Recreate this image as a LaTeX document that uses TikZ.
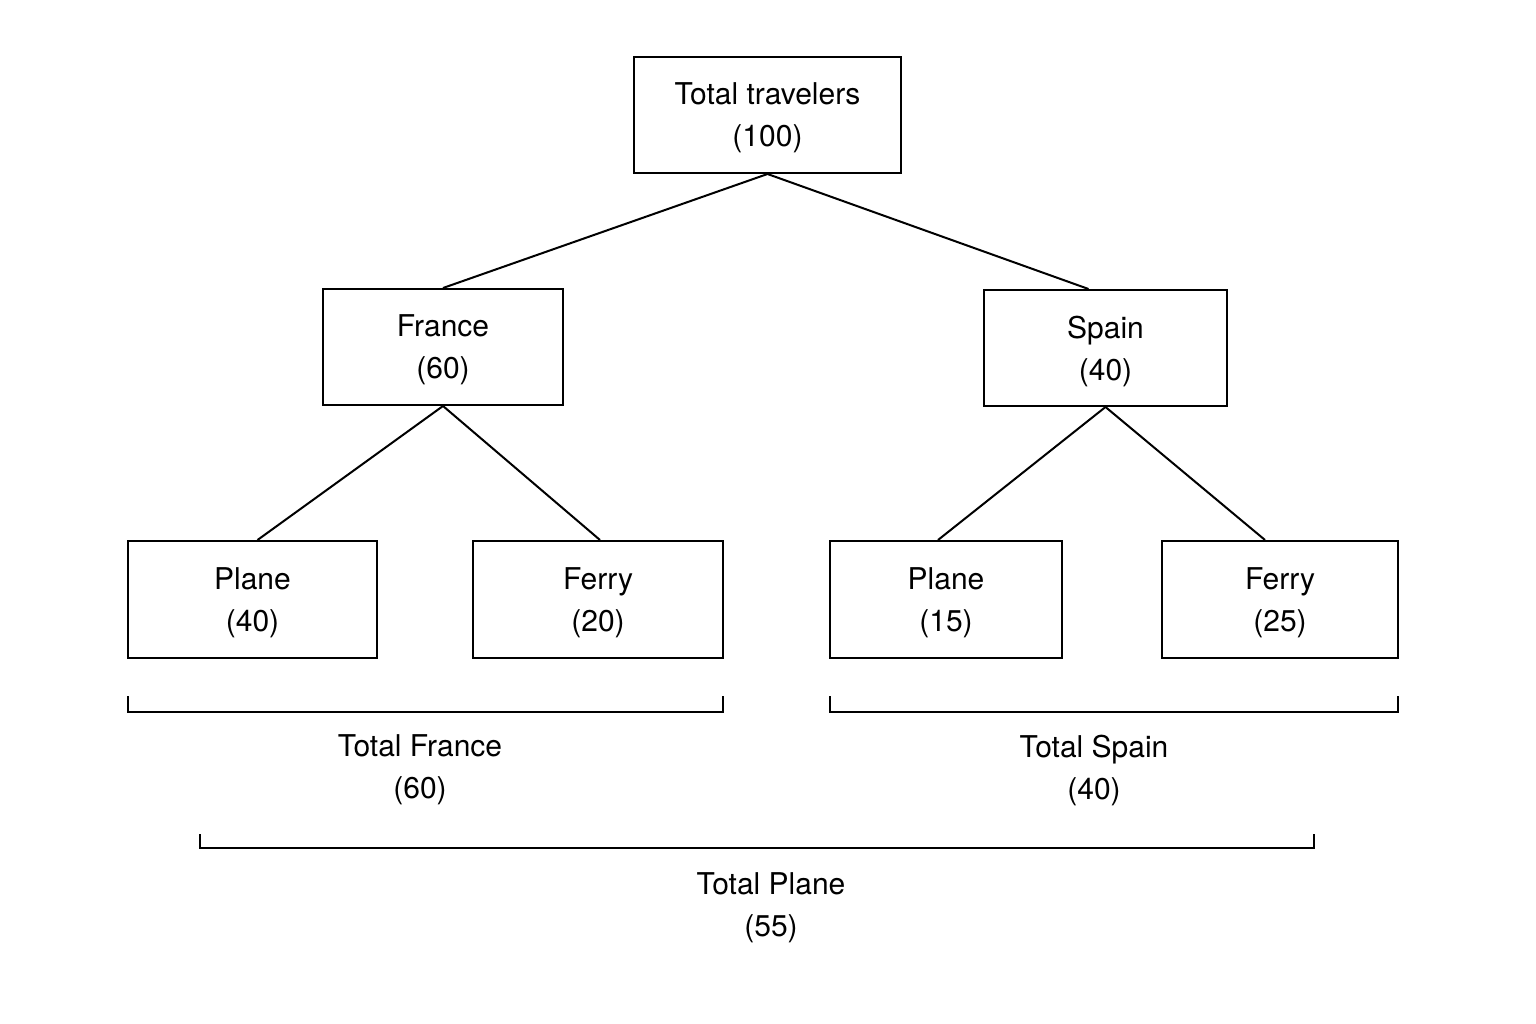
\documentclass[tikz,border=0pt]{standalone}
\usepackage{fontspec}
\setmainfont{TeX Gyre Heros}
\begin{document}
\begin{tikzpicture}[x=1pt,y=-1pt,
  box/.style={draw,line width=2pt,inner sep=0pt,align=center,font=\fontsize{30}{42}\selectfont},
  lbl/.style={align=center,font=\fontsize{30}{42}\selectfont},
  ln/.style={line width=2pt}]
\useasboundingbox (0,0) rectangle (1536,1024);
\node[box,minimum width=267pt,minimum height=116pt,text depth=-6pt] (top) at (767.5,115) {Total travelers\\(100)};
\node[box,minimum width=240pt,minimum height=116pt,text depth=-6pt] (fr) at (443,347) {France\\(60)};
\node[box,minimum width=243pt,minimum height=116pt,text depth=-6pt] (sp) at (1105.5,348) {Spain\\(40)};
\node[box,minimum width=249pt,minimum height=117pt,text depth=-6pt] (p1) at (252.5,599.5) {Plane\\(40)};
\node[box,minimum width=250pt,minimum height=117pt,text depth=-6pt] (f1) at (598,599.5) {Ferry\\(20)};
\node[box,minimum width=232pt,minimum height=117pt,text depth=-6pt] (p2) at (946,599.5) {Plane\\(15)};
\node[box,minimum width=236pt,minimum height=117pt,text depth=-6pt] (f2) at (1280,599.5) {Ferry\\(25)};
\draw[ln] (top.south) -- (fr.north) (top.south) -- ([xshift=-17pt]sp.north);
\draw[ln] (fr.south) -- ([xshift=5pt]p1.north) (fr.south) -- ([xshift=2pt]f1.north);
\draw[ln] (sp.south) -- ([xshift=-8pt]p2.north) (sp.south) -- ([xshift=-15pt]f2.north);
\coordinate (a1) at (128,696); \coordinate (a2) at (723,696);
\coordinate (b1) at (830,696); \coordinate (b2) at (1398,696);
\coordinate (c1) at (200,834); \coordinate (c2) at (1314,834);
\draw[ln] (a1) -- ++(0,16) -| (a2);
\draw[ln] (b1) -- ++(0,16) -| (b2);
\draw[ln] (c1) -- ++(0,14) -| (c2);
\node[lbl] (tf) at (420,770) {Total France\\(60)};
\node[lbl] (ts) at (1094,770) {Total Spain\\(40)};
\node[lbl] (tp) at (771,908) {Total Plane\\(55)};
\end{tikzpicture}
\end{document}
